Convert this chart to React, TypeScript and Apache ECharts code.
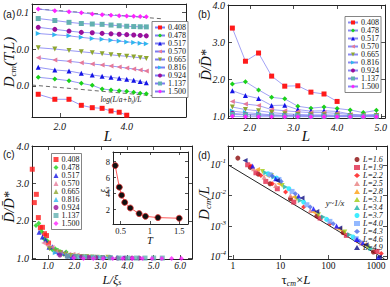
import React, { useEffect, useRef } from 'react';
import * as echarts from 'echarts';

const W = 390;
const H = 287;
const SERIF = 'Liberation Serif';
const SANS = 'Liberation Sans';

// temperatures (legend labels of a, b, c)
const temps = ['0.408', '0.478', '0.517', '0.570', '0.665', '0.816', '0.924', '1.137', '1.500'];
const tempColors = ['#ff1a1a', '#1ad21a', '#1414e6', '#e67a9a', '#8ea630', '#2fb6ee', '#9a109a', '#62b0b0', '#ff22ff'];
const tempSymbols = ['rect', 'diamond', 'triangle', 'triangle', 'triangle', 'triangle', 'circle', 'rect', 'diamond'];
const tempRotate = [0, 0, 0, 90, 180, -90, 0, 0, 0];

// system sizes L
const sizesL = [1.6, 1.9, 2.2, 2.5, 2.8, 3.1, 3.4, 3.7, 4.0, 4.3, 4.6, 4.9];

// panel (a): D_cm(T,L)
const dcm0408 = [0.000597, 0.000437, 0.000437, 0.0003, 0.000259, 0.000249, 0.000211, 0.000195, 0.000162];
const dcm0478 = [0.00172, 0.00155, 0.00139, 0.00118, 0.00104, 0.00083, 0.00078, 0.000746, 0.00072, 0.000676, 0.000635, 0.00062];
const dcm0517 = [0.0032, 0.00271, 0.00254, 0.0022, 0.00198, 0.00183, 0.00172, 0.00161, 0.00152, 0.00143, 0.00132, 0.00123];
const dcm0570 = [0.00582, 0.00504, 0.00466, 0.00427, 0.00394, 0.0037, 0.00347, 0.00326, 0.00306, 0.00288, 0.00271, 0.00254];
const dcm0665 = [0.01084, 0.01, 0.00911, 0.00845, 0.00789, 0.00742, 0.00697, 0.00663, 0.00635, 0.00608, 0.00578, 0.00554];
const dcm0816 = [0.0262, 0.0243, 0.0227, 0.0207, 0.0192, 0.0183, 0.0173, 0.0164, 0.0156, 0.015, 0.0143, 0.0138];
const dcm0924 = [0.0386, 0.0341, 0.0306, 0.0282, 0.0275, 0.0265, 0.0258, 0.0251, 0.0245, 0.0239, 0.0233, 0.0227];
const dcm1137 = [0.0667, 0.059, 0.0527, 0.0489, 0.0474, 0.0465, 0.0445, 0.0426, 0.0413, 0.0405, 0.04, 0.0397];
const dcm1500 = [0.1205, 0.1085, 0.102, 0.0958, 0.0883, 0.0846, 0.082, 0.0794, 0.078, 0.0765, 0.0756, 0.0746];
const dcmByT = [dcm0408, dcm0478, dcm0517, dcm0570, dcm0665, dcm0816, dcm0924, dcm1137, dcm1500];

// dashed guide lines in (a)
const upperFitL = [1.6, 5.8];
const upperFitD = [0.1205, 0.0655];
const lowerFitL = [1.5, 5.8];
const lowerFitD = [0.00106, 0.000514];

// panel (b): D/D*
const ratio0408 = [3.38, 2.49, 2.71, 2.09, 1.82, 1.83, 1.66, 1.61, 1.41];
const ratio0478 = [1.88, 1.94, 1.72, 1.52, 1.48, 1.28, 1.23, 1.26, 1.22, 1.18, 1.11, 1.17];
const ratio0517 = [1.7, 1.57, 1.49, 1.3, 1.31, 1.19, 1.15, 1.16, 1.14, 1.07, 1.04, 1.06];
const ratio0570 = [1.41, 1.34, 1.3, 1.19, 1.16, 1.13, 1.11, 1.11, 1.09, 1.06, 1.04, 1.04];
const ratio0665 = [1.26, 1.19, 1.16, 1.11, 1.08, 1.06, 1.05, 1.05, 1.04, 1.03, 1.02, 1.03];
const ratio0816 = [1.15, 1.11, 1.08, 1.05, 1.04, 1.04, 1.03, 1.03, 1.02, 1.02, 1.02, 1.02];
const ratio0924 = [1.09, 1.06, 1.05, 1.04, 1.03, 1.02, 1.02, 1.02, 1.01, 1.01, 1.01, 1.01];
const ratio1137 = [1.06, 1.05, 1.04, 1.03, 1.02, 1.02, 1.01, 1.01, 1.01, 1.01, 1.01, 1.01];
const ratio1500 = [1.01, 1.0, 1.0, 1.0, 1.0, 1.0, 1.0, 1.0, 1.0, 1.0, 1.0, 1.0];
const ratioByT = [ratio0408, ratio0478, ratio0517, ratio0570, ratio0665, ratio0816, ratio0924, ratio1137, ratio1500];

// panel (c): scaling lengths used on the collapse axis L/xi_s
const xiCollapse = [3.9, 2.9, 2.4, 1.9, 1.5, 1.25, 1.1, 0.92, 0.81];
// inset: xi_s(T)
const insetT = [0.408, 0.478, 0.517, 0.57, 0.665, 0.816, 0.924, 1.137, 1.5];
const insetXi = [7.5, 4.8, 3.8, 2.9, 2.2, 1.5, 1.16, 1.0, 0.92];

// panel (d): (tau_cm x L, D_cm / L)
const dL16 = [[1.27, 0.165], [2.32, 0.0818], [3.4, 0.0496], [6.02, 0.024], [16.1, 0.00778], [57.4, 0.00212], [204, 0.000606], [881, 0.000142]];
const dL19 = [[2.04, 0.1], [3.04, 0.0548], [4.89, 0.0286], [8.53, 0.0165], [18.9, 0.00606], [67.2, 0.00182], [239, 0.000496], [1049, 0.000149]];
const dL22 = [[2.39, 0.0905], [3.86, 0.0449], [6.72, 0.024], [12.7, 0.0128], [30.4, 0.00417], [108, 0.00119], [386, 0.000341], [1289, 0.000128]];
const dL25 = [[2.72, 0.0741], [4.52, 0.0396], [7.88, 0.0212], [16.1, 0.01], [41.8, 0.00324], [149, 0.000928], [489, 0.000279]];
const dL28 = [[3.29, 0.0704], [5.3, 0.0449], [9.24, 0.024], [18.9, 0.00883], [48.9, 0.00286], [174, 0.000779], [574, 0.000246]];
const dL31 = [[4.18, 0.0606], [6.41, 0.0449], [10.8, 0.0212], [22.1, 0.00778], [62.1, 0.00234], [221, 0.000637], [672, 0.000207]];
const dL34 = [[4.89, 0.0548], [7.28, 0.0396], [12.7, 0.0187], [25.9, 0.00687], [78.8, 0.00197], [281, 0.000522], [788, 0.000182]];
const dL37 = [[5.47, 0.0509], [8.27, 0.0367], [14.9, 0.0165], [30.4, 0.00606], [92.4, 0.00165], [329, 0.000438]];
const dL40 = [[6.02, 0.0472], [9.24, 0.0332], [17.4, 0.0135], [35.6, 0.00496], [108, 0.00142], [386, 0.000386]];
const dL43 = [[6.72, 0.0427], [10.3, 0.0286], [20.4, 0.0113], [41.8, 0.00417], [127, 0.00119], [452, 0.000316]];
const dL46 = [[2.59, 0.0905], [7.88, 0.035], [23.9, 0.0095], [48.9, 0.00367], [149, 0.001], [530, 0.000286], [1118, 0.0000951]];
const dL49 = [[1.8, 0.138], [8.53, 0.0308], [28.1, 0.00818], [57.4, 0.00301], [174, 0.000861], [621, 0.000246], [1172, 0.0000975]];
const dByL = [dL16, dL19, dL22, dL25, dL28, dL31, dL34, dL37, dL40, dL43, dL46, dL49];
const dColors = ['#8b0a0a', '#e0284a', '#ff1010', '#e88080', '#ffa010', '#a0cc10', '#18b0a8', '#10e8ff', '#78a8ff', '#4a6ae8', '#1010ff', '#0a0a80'];
const dSymbols = ['circle', 'rect', 'diamond', 'triangle', 'triangle', 'triangle', 'triangle', 'circle', 'rect', 'diamond', 'triangle', 'triangle'];
const dRotate = [0, 0, 0, 0, 90, 180, -90, 0, 0, 0, 0, 90];

// reference line y ~ 1/x in (d)
const refLineX = [0.79, 1500];
const refLineY = [0.1, 0.000085];

// tick values
const ticksAx = [2, 4];
const ticksAy = [0.001, 0.01, 0.1];
const ticksBx = [2, 3, 4, 5];
const ticksBCy = [1, 2, 3, 4];
const ticksCx = [1, 2, 3, 4, 5, 6];
const ticksDx = [1, 10, 100, 1000];
const ticksDy = [0.0001, 0.001, 0.01, 0.1];
const ticksIx = [0.5, 1, 1.5];
const ticksIy = [2, 4, 6, 8];

function mkAxis(gridIndex: number, position: string, type: string, min: number, max: number, ticks: number[], fmt: any, o: any = {}) {
  const ax: any = {
    gridIndex,
    position,
    type,
    min,
    max,
    axisLine: { show: true, onZero: false, lineStyle: { color: '#222', width: 1 } },
    axisTick: { show: true, inside: true, length: o.tickLen ?? 4, customValues: ticks, lineStyle: { color: '#222', width: 0.8 } },
    axisLabel: fmt
      ? {
          show: true,
          customValues: ticks,
          formatter: fmt,
          margin: o.margin ?? 3,
          fontFamily: SERIF,
          fontStyle: o.upright ? 'normal' : 'italic',
          fontSize: o.fontSize ?? 10,
          color: '#111',
          rich: o.rich,
        }
      : { show: false },
    splitLine: { show: false },
  };
  if (type === 'log') ax.logBase = 10;
  return ax;
}

function txt(x: number, y: number, text: string, o: any = {}) {
  return {
    type: 'text',
    x,
    y,
    rotation: o.rot || 0,
    silent: true,
    z: 20,
    style: {
      text,
      fill: '#111',
      fontFamily: o.ff || SERIF,
      fontSize: o.fs || 14,
      fontStyle: o.upright ? 'normal' : 'italic',
      align: o.align || 'center',
      verticalAlign: 'middle',
      textAlign: o.align || 'center',
      textVerticalAlign: 'middle',
      rich: o.rich,
    },
  };
}

function richT(fs: number) {
  return {
    i: { fontFamily: SERIF, fontStyle: 'italic', fontSize: fs, lineHeight: fs + 2, fill: '#111', color: '#111' },
    u: { fontFamily: SERIF, fontStyle: 'normal', fontSize: fs, lineHeight: fs + 2, fill: '#111', color: '#111' },
    s: { fontFamily: SERIF, fontStyle: 'italic', fontSize: Math.round(fs * 0.62), lineHeight: Math.round(fs * 0.75), verticalAlign: 'bottom', fill: '#111', color: '#111' },
  };
}

function legendBase(left: number, top: number, names: string[], o: any = {}) {
  return {
    orient: 'vertical',
    left,
    top,
    data: names,
    itemGap: 0,
    itemWidth: o.itemWidth ?? 10,
    itemHeight: 5,
    padding: o.padding ?? [2, 2, 2, 2],
    borderColor: o.border === false ? 'transparent' : '#666',
    borderWidth: o.border === false ? 0 : 0.8,
    backgroundColor: o.border === false ? 'transparent' : '#fff',
    selectedMode: false,
    formatter: o.formatter ?? ((n: string) => n.split(':')[1]),
    textStyle: { fontFamily: SERIF, fontSize: 8, fontStyle: o.italic ? 'italic' : 'normal', lineHeight: o.lineHeight ?? 7.2, color: '#111', padding: [0, 0, 0, -2] },
  };
}

function buildOption() {
  const series: any[] = [];
  // (a)
  temps.forEach((t, i) => {
    series.push({
      name: 'a:' + t,
      type: 'line',
      xAxisIndex: 0,
      yAxisIndex: 0,
      data: dcmByT[i].map((v, k) => [sizesL[k], v]),
      symbol: tempSymbols[i],
      symbolRotate: tempRotate[i],
      symbolSize: 5,
      itemStyle: { color: tempColors[i] },
      lineStyle: { color: '#7c7cf2', width: 0.8 },
      z: 3,
    });
  });
  series.push({
    name: 'fitUpper', type: 'line', xAxisIndex: 0, yAxisIndex: 0, symbol: 'none',
    data: upperFitL.map((l, k) => [l, upperFitD[k]]),
    lineStyle: { color: '#444', width: 0.8, type: [4, 3] }, z: 2,
  });
  series.push({
    name: 'fitLower', type: 'line', xAxisIndex: 0, yAxisIndex: 0, symbol: 'none',
    data: lowerFitL.map((l, k) => [l, lowerFitD[k]]),
    lineStyle: { color: '#444', width: 0.8, type: [4, 3] }, z: 2,
  });
  // (b)
  temps.forEach((t, i) => {
    series.push({
      name: 'b:' + t,
      type: 'line',
      xAxisIndex: 2,
      yAxisIndex: 2,
      data: ratioByT[i].map((v, k) => [sizesL[k], v]),
      symbol: tempSymbols[i],
      symbolRotate: tempRotate[i],
      symbolSize: 5,
      itemStyle: { color: tempColors[i] },
      lineStyle: { color: '#8a8af2', width: 0.8 },
      z: 3,
    });
  });
  // (c)
  temps.forEach((t, i) => {
    series.push({
      name: 'c:' + t,
      type: 'scatter',
      xAxisIndex: 4,
      yAxisIndex: 4,
      data: ratioByT[i].map((v, k) => [sizesL[k] / xiCollapse[i], v]),
      symbol: tempSymbols[i],
      symbolRotate: tempRotate[i],
      symbolSize: 5,
      itemStyle: { color: tempColors[i] },
      z: 3,
    });
  });
  series.push({
    name: 'inset', type: 'line', xAxisIndex: 8, yAxisIndex: 8,
    data: insetT.map((t, k) => [t, insetXi[k]]),
    symbol: 'circle', symbolSize: 6,
    itemStyle: { color: '#111', borderColor: '#e03030', borderWidth: 0.8 },
    lineStyle: { color: '#ff5a5a', width: 1 }, z: 5,
  });
  // (d)
  series.push({
    name: 'ref', type: 'line', xAxisIndex: 6, yAxisIndex: 6, symbol: 'none',
    data: refLineX.map((x, k) => [x, refLineY[k]]),
    lineStyle: { color: '#222', width: 1 }, z: 2,
  });
  sizesL.forEach((L, i) => {
    series.push({
      name: 'd:' + L.toFixed(1),
      type: 'scatter',
      xAxisIndex: 6,
      yAxisIndex: 6,
      data: dByL[i],
      symbol: dSymbols[i],
      symbolRotate: dRotate[i],
      symbolSize: 5,
      itemStyle: { color: dColors[i] },
      z: 3,
    });
  });

  const f1 = (v: number) => v.toFixed(1);
  const rich10 = {
    b: { fontFamily: SERIF, fontStyle: 'italic', fontSize: 10, lineHeight: 14, color: '#111' },
    s: { fontFamily: SERIF, fontStyle: 'italic', fontSize: 7, lineHeight: 9, verticalAlign: 'top', color: '#111' },
  };

  const option: any = {
    animation: false,
    backgroundColor: '#fff',
    grid: [
      { left: 32, top: 4, width: 154, height: 113 },
      { left: 228, top: 4, width: 160, height: 114 },
      { left: 32, top: 146, width: 160, height: 113 },
      { left: 228, top: 146, width: 159, height: 113 },
      { left: 113, top: 152, width: 75, height: 72 },
    ],
    xAxis: [
      mkAxis(0, 'bottom', 'log', 1.5, 7.39, ticksAx, f1, { margin: 4 }),
      mkAxis(0, 'top', 'log', 1.5, 7.39, ticksAx, null),
      mkAxis(1, 'bottom', 'value', 1.5, 5.1, ticksBx, f1, { margin: 4 }),
      mkAxis(1, 'top', 'value', 1.5, 5.1, ticksBx, null),
      mkAxis(2, 'bottom', 'value', 0.4, 6.45, ticksCx, f1, { margin: 2, fontSize: 9.5 }),
      mkAxis(2, 'top', 'value', 0.4, 6.45, ticksCx, null),
      mkAxis(3, 'bottom', 'log', 0.79, 1700, ticksDx, (v: number) => String(Math.round(v)), { margin: 2, upright: true, fontSize: 9.5 }),
      mkAxis(3, 'top', 'log', 0.79, 1700, ticksDx, null),
      mkAxis(4, 'bottom', 'value', 0.37, 1.65, ticksIx, (v: number) => String(v), { margin: 2, upright: true, fontSize: 8.5, tickLen: 3 }),
      mkAxis(4, 'top', 'value', 0.37, 1.65, ticksIx, null, { tickLen: 3 }),
    ],
    yAxis: [
      mkAxis(0, 'left', 'log', 0.000145, 0.165, ticksAy, f1, { margin: 3 }),
      mkAxis(0, 'right', 'log', 0.000145, 0.165, ticksAy, null),
      mkAxis(1, 'left', 'value', 0.965, 4.0, ticksBCy, f1, { margin: 3 }),
      mkAxis(1, 'right', 'value', 0.965, 4.0, ticksBCy, null),
      mkAxis(2, 'left', 'value', 0.985, 4.0, ticksBCy, f1, { margin: 3 }),
      mkAxis(2, 'right', 'value', 0.985, 4.0, ticksBCy, null),
      mkAxis(3, 'left', 'log', 0.000084, 0.41, ticksDy, (v: number) => '{b|10}{s|' + Math.round(Math.log10(v)) + '}', { margin: 2, rich: rich10 }),
      mkAxis(3, 'right', 'log', 0.000084, 0.41, ticksDy, null),
      mkAxis(4, 'left', 'value', 0.2, 9.2, ticksIy, (v: number) => String(v), { margin: 3, upright: true, fontSize: 8.5, tickLen: 3 }),
      mkAxis(4, 'right', 'value', 0.2, 9.2, ticksIy, null, { tickLen: 3 }),
    ],
    legend: [
      legendBase(152, 21.5, temps.map((t) => 'a:' + t)),
      legendBase(345, 16.5, temps.map((t) => 'b:' + t), { lineHeight: 7 }),
      legendBase(51.5, 153.5, temps.map((t) => 'c:' + t), { itemWidth: 5, lineHeight: 8 }),
      legendBase(352, 153.5, sizesL.map((L) => 'd:' + L.toFixed(1)), {
        itemWidth: 6, lineHeight: 6.9, border: false, italic: true,
        formatter: (n: string) => 'L=' + n.split(':')[1],
      }),
    ],
    series,
    graphic: [
      txt(3, 14, '(a)', { ff: SANS, fs: 10, upright: true, align: 'left' }),
      txt(198, 14, '(b)', { ff: SANS, fs: 10, upright: true, align: 'left' }),
      txt(3, 154, '(c)', { ff: SANS, fs: 10, upright: true, align: 'left' }),
      txt(198, 155, '(d)', { ff: SANS, fs: 10, upright: true, align: 'left' }),
      txt(9, 62, '{i|D}{s|cm}{i|(T,L)}', { rot: Math.PI / 2, rich: richT(15) }),
      txt(108, 136, 'L', { fs: 15 }),
      txt(121, 99.5, '{i|log(L/a+b}{s|f}{i|)/L}', { rich: richT(7.5) }),
      txt(206, 65, 'D\u0304/D\u0304*', { rot: Math.PI / 2, fs: 14 }),
      txt(306, 136, 'L', { fs: 15 }),
      txt(9, 207, 'D\u0304/D\u0304*', { rot: Math.PI / 2, fs: 14 }),
      txt(112, 279.5, '{i|L/\u03be}{s|s}', { rich: richT(12.5) }),
      txt(104, 190, '{i|\u03be}{s|s}', { rot: Math.PI / 2, rich: richT(10) }),
      txt(150, 240, 'T', { fs: 10.5 }),
      txt(204, 203, '{i|D}{s|cm}{i|/L}', { rot: Math.PI / 2, rich: richT(15) }),
      txt(296, 279.5, '{u|\u03c4}{s|cm}{u|\u00d7}{i|L}', { rich: richT(13) }),
      txt(335, 203, 'y~1/x', { fs: 8.5 }),
    ],
  };
  return option;
}

export default function App() {
  const ref = useRef<HTMLDivElement>(null);
  useEffect(() => {
    document.body.style.margin = '0';
    const chart = echarts.init(ref.current as HTMLDivElement, null, { renderer: 'svg' });
    chart.setOption(buildOption());
    return () => chart.dispose();
  }, []);
  return <div ref={ref} style={{ width: W, height: H, background: '#fff' }} />;
}
